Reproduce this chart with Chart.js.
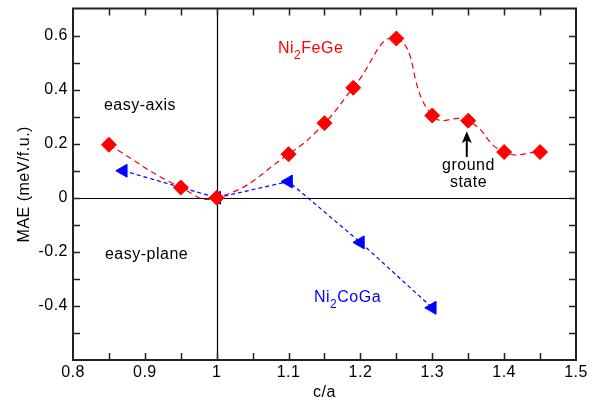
<!DOCTYPE html>
<html>
<head>
<meta charset="utf-8">
<script src="https://cdn.jsdelivr.net/npm/chart.js@4.4.1/dist/chart.umd.min.js"></script>
<style>
html,body{margin:0;padding:0;background:#fff;overflow:hidden}
canvas{display:block}
</style>
</head>
<body>
<canvas id="c" width="599" height="401"></canvas>
<script>
// ---- data ----
const caFeGe  = [0.85, 0.95, 1.00, 1.10, 1.15, 1.19, 1.25, 1.30, 1.35, 1.40, 1.45];
const maeFeGe = [0.196, 0.038, 0.000, 0.161, 0.276, 0.407, 0.589, 0.304, 0.285, 0.169, 0.169];
const caCoGa  = [0.87, 1.00, 1.10, 1.20, 1.30];
const maeCoGa = [0.100, 0.000, 0.060, -0.165, -0.407];
const xTickLabels = ['0.8','0.9','1','1.1','1.2','1.3','1.4','1.5'];
const yTickLabels = ['-0.4','-0.2','0','0.2','0.4','0.6'];
const xTitle = 'c/a';
const yTitle = 'MAE (meV/f.u.)';

// ---- annotation placement (data coordinates) ----
const notes = [
  {parts:[['easy-axis',0]], x:0.843, y:0.323, color:'#000', align:'left'},
  {parts:[['easy-plane',0]], x:0.8445, y:-0.228, color:'#000', align:'left'},
  {parts:[['Ni',0],['2',1],['FeGe',0]], x:1.0853, y:0.535, color:'#ff0000', align:'left'},
  {parts:[['Ni',0],['2',1],['CoGa',0]], x:1.1354, y:-0.386, color:'#0000ff', align:'left'},
  {parts:[['ground',0]], x:1.3504, y:0.1016, color:'#000', align:'center'},
  {parts:[['state',0]], x:1.3504, y:0.0388, color:'#000', align:'center'}
];
const arrowNote = {x:1.348, yTip:0.2456, yTail:0.1507};

const toPts = (xs, ys) => xs.map((x, i) => ({x: x, y: ys[i]}));
const FONT = '"Liberation Sans", Arial, Helvetica, sans-serif';

const framePlugin = {
  id: 'frame',
  beforeDraw(chart) {
    chart.ctx.letterSpacing = '0.5px';
  },
  beforeDatasetsDraw(chart) {
    const {ctx, chartArea: a, scales: {x, y}} = chart;
    ctx.save();
    ctx.strokeStyle = '#000';
    ctx.lineWidth = 1.2;
    const x1 = Math.round(x.getPixelForValue(1)) + 0.5;
    const y0 = Math.round(y.getPixelForValue(0)) + 0.5;
    ctx.beginPath();
    ctx.moveTo(x1, a.top); ctx.lineTo(x1, a.bottom);
    ctx.moveTo(a.left, y0); ctx.lineTo(a.right, y0);
    ctx.stroke();
    ctx.restore();
  },
  afterDraw(chart) {
    const {ctx, chartArea: a, scales: {x, y}} = chart;
    ctx.save();
    // inward ticks
    ctx.strokeStyle = '#222';
    ctx.lineWidth = 1.5;
    const L = 7;
    ctx.beginPath();
    x.ticks.forEach(t => {
      const px = Math.round(x.getPixelForValue(t.value)) + 0.5;
      if (px <= a.left + 1 || px >= a.right - 1) return;
      ctx.moveTo(px, a.bottom); ctx.lineTo(px, a.bottom - L);
      ctx.moveTo(px, a.top); ctx.lineTo(px, a.top + L);
    });
    y.ticks.forEach(t => {
      const py = Math.round(y.getPixelForValue(t.value)) + 0.5;
      if (py <= a.top + 1 || py >= a.bottom - 1) return;
      ctx.moveTo(a.left, py); ctx.lineTo(a.left + L, py);
      ctx.moveTo(a.right, py); ctx.lineTo(a.right - L, py);
    });
    ctx.stroke();
    // frame
    ctx.strokeStyle = '#222';
    ctx.lineWidth = 2;
    ctx.strokeRect(a.left, a.top, a.right - a.left, a.bottom - a.top);

    // annotations
    ctx.textBaseline = 'alphabetic';
    notes.forEach(n => {
      let px = x.getPixelForValue(n.x);
      const py = y.getPixelForValue(n.y);
      const fonts = ['16px ' + FONT, '12px ' + FONT];
      let total = 0;
      n.parts.forEach(p => { ctx.font = fonts[p[1]]; total += ctx.measureText(p[0]).width; });
      if (n.align === 'center') px -= total / 2;
      ctx.fillStyle = n.color;
      ctx.textAlign = 'left';
      n.parts.forEach(p => {
        ctx.font = fonts[p[1]];
        ctx.fillText(p[0], px, py + (p[1] ? 6 : 0));
        px += ctx.measureText(p[0]).width;
      });
    });

    // arrow
    const ax = x.getPixelForValue(arrowNote.x);
    const tip = y.getPixelForValue(arrowNote.yTip);
    const tail = y.getPixelForValue(arrowNote.yTail);
    ctx.strokeStyle = '#000';
    ctx.fillStyle = '#000';
    ctx.lineWidth = 2;
    ctx.beginPath();
    ctx.moveTo(ax, tail); ctx.lineTo(ax, tip + 8);
    ctx.stroke();
    ctx.beginPath();
    ctx.moveTo(ax, tip);
    ctx.lineTo(ax - 5, tip + 12);
    ctx.lineTo(ax, tip + 9);
    ctx.lineTo(ax + 5, tip + 12);
    ctx.closePath();
    ctx.fill();
    ctx.restore();
  }
};

new Chart(document.getElementById('c'), {
  type: 'scatter',
  data: {
    datasets: [
      {
        label: 'Ni2FeGe',
        data: toPts(caFeGe, maeFeGe),
        showLine: true,
        tension: 0.5,
        borderColor: '#ff0000',
        borderWidth: 1.2,
        borderDash: [6, 4],
        pointStyle: 'rectRot',
        pointRadius: 7.5,
        pointBackgroundColor: '#ff0000',
        pointBorderColor: '#ff0000',
        pointBorderWidth: 1,
        clip: false
      },
      {
        label: 'Ni2CoGa',
        data: toPts(caCoGa, maeCoGa),
        showLine: true,
        tension: 0,
        borderColor: '#0000ff',
        borderWidth: 1.2,
        borderDash: [4, 3],
        pointStyle: 'triangle',
        pointRotation: -90,
        pointRadius: 7.5,
        pointBackgroundColor: '#0000ff',
        pointBorderColor: '#0000ff',
        pointBorderWidth: 1,
        clip: false
      }
    ]
  },
  options: {
    responsive: false,
    animation: false,
    events: [],
    layout: {padding: {left: 0, top: 8, right: 23, bottom: 0}},
    plugins: {legend: {display: false}, tooltip: {enabled: false}},
    scales: {
      x: {
        type: 'linear',
        min: 0.8, max: 1.5,
        afterFit: s => { s.height = 41; s.paddingLeft = 0; s.paddingRight = 0; },
        grid: {display: false, drawTicks: false},
        border: {display: false},
        ticks: {
          stepSize: 0.05,
          autoSkip: false,
          maxRotation: 0,
          padding: 3,
          color: '#000',
          font: {family: FONT, size: 16},
          callback: v => {
            const k = Math.round(v * 100);
            if (k % 10 !== 0) return '';
            const i = Math.round((v - 0.8) * 10);
            return xTickLabels[i] !== undefined ? xTickLabels[i] : '';
          }
        },
        title: {display: true, text: xTitle, color: '#000', font: {family: FONT, size: 16}, padding: {top: 0, bottom: -1}}
      },
      y: {
        type: 'linear',
        min: -0.6, max: 0.7,
        afterFit: s => { s.width = 73; s.paddingTop = 0; s.paddingBottom = 0; },
        grid: {display: false, drawTicks: false},
        border: {display: false},
        ticks: {
          stepSize: 0.1,
          autoSkip: false,
          padding: 5,
          color: '#000',
          font: {family: FONT, size: 16},
          callback: v => {
            const k = Math.round(v * 10);
            if (k % 2 !== 0) return '';
            const i = k / 2 + 2;
            return yTickLabels[i] !== undefined ? yTickLabels[i] : '';
          }
        },
        title: {display: true, text: yTitle, color: '#000', font: {family: FONT, size: 16}, padding: {top: 15, bottom: 0}}
      }
    }
  },
  plugins: [framePlugin]
});
</script>
</body>
</html>
